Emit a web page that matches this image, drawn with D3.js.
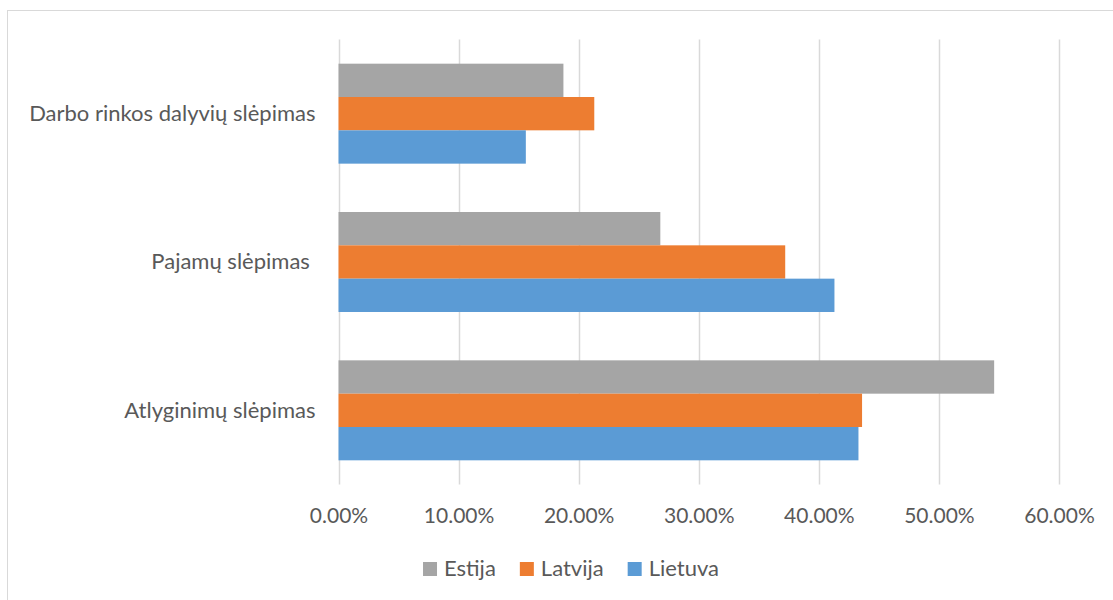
<!DOCTYPE html>
<html>
<head>
<meta charset="utf-8">
<script src="https://cdn.jsdelivr.net/npm/d3@7"></script>
<style>
	body { margin: 0; background: #fff; }
	svg { display: block; font-family: Lato, "Open Sans", sans-serif; }
	text { fill: #595959; white-space: pre; }
</style>
</head>
<body>
<svg id="chart" width="1113" height="600"></svg>
<script>
'use strict';

//Chart data (top to bottom as drawn)
var categories = ["Darbo rinkos dalyvių slėpimas", "Pajamų slėpimas ", "Atlyginimų slėpimas"];
var seriesNames = ["Estija", "Latvija", "Lietuva"];
var seriesColors = ["#A5A5A5", "#ED7D31", "#5B9BD5"];

var estija = [0.1873, 0.268, 0.546];
var latvija = [0.213, 0.372, 0.436];
var lietuva = [0.156, 0.413, 0.433];
var seriesValues = [estija, latvija, lietuva];

var xTicks = [0, 0.1, 0.2, 0.3, 0.4, 0.5, 0.6];

var svg = d3.select("#chart");

//Outer chart border
svg.append("rect")
	.attr("x", 7.5)
	.attr("y", 10.5)
	.attr("width", 1200)
	.attr("height", 700)
	.attr("fill", "none")
	.attr("stroke", "#D9D9D9")
	.attr("stroke-width", 1);

var plot = { left: 338.5, right: 1059, top: 39.5, bottom: 484.5 };

var x = d3.scaleLinear()
	.domain([0, 0.6])
	.range([plot.left, plot.right]);

var y = d3.scaleBand()
	.domain(categories)
	.range([plot.top, plot.bottom])
	.paddingInner(0.326)
	.paddingOuter(0.163);

var ySeries = d3.scaleBand()
	.domain(seriesNames)
	.range([0, y.bandwidth()]);

//Gridlines
svg.append("g")
	.selectAll("line")
	.data(xTicks)
	.join("line")
	.attr("x1", function(d) { return Math.round(x(d)) + 0.5; })
	.attr("x2", function(d) { return Math.round(x(d)) + 0.5; })
	.attr("y1", plot.top)
	.attr("y2", plot.bottom)
	.attr("stroke", "#D9D9D9")
	.attr("stroke-width", 1.5);

//X axis tick labels
var xAxis = d3.axisBottom(x)
	.tickValues(xTicks)
	.tickSize(0)
	.tickPadding(0)
	.tickFormat(d3.format(".2%"));

var xAxisG = svg.append("g")
	.attr("transform", "translate(0," + plot.bottom + ")")
	.call(xAxis);
xAxisG.select(".domain").remove();
xAxisG.selectAll("text")
	.attr("y", 38.5)
	.attr("dy", null)
	.style("font-family", "Lato, sans-serif")
	.style("font-size", "21px")
	.attr("fill", "#595959");

//Category labels
var yAxis = d3.axisLeft(y)
	.tickSize(0)
	.tickPadding(23);

var yAxisG = svg.append("g")
	.attr("transform", "translate(" + plot.left + ",0)")
	.call(yAxis);
yAxisG.select(".domain").remove();
yAxisG.selectAll("text")
	.attr("dy", "0.34em")
	.style("font-family", "Lato, sans-serif")
	.style("font-size", "22px")
	.attr("fill", "#595959");

//Bars
var groups = svg.append("g")
	.selectAll("g")
	.data(categories)
	.join("g")
	.attr("transform", function(d) { return "translate(0," + y(d) + ")"; });

groups.selectAll("rect")
	.data(function(cat, ci) {
		return seriesNames.map(function(name, si) {
			return { name: name, value: seriesValues[si][ci], color: seriesColors[si] };
		});
	})
	.join("rect")
	.attr("x", x(0))
	.attr("y", function(d) { return ySeries(d.name); })
	.attr("width", function(d) { return x(d.value) - x(0); })
	.attr("height", ySeries.bandwidth())
	.attr("fill", function(d) { return d.color; });

//Legend
var legend = svg.append("g")
	.attr("transform", "translate(0,0)");

var legendItems = legend.selectAll("g")
	.data(seriesNames)
	.join("g");

legendItems.append("rect")
	.attr("width", 14)
	.attr("height", 14)
	.attr("y", 562)
	.attr("fill", function(d, i) { return seriesColors[i]; });

legendItems.append("text")
	.attr("x", 21)
	.attr("y", 576)
	.style("font-size", "22px")
	.text(function(d) { return d; });

//Lay out legend items in a row, centered
var legendX = 0;
var itemGap = 24;
legendItems.each(function() {
	var w = d3.select(this).select("text").node().getComputedTextLength();
	d3.select(this).attr("transform", "translate(" + legendX + ",0)");
	legendX += 21 + w + itemGap;
});
var legendWidth = legendX - itemGap;
legend.attr("transform", "translate(" + (571 - legendWidth / 2) + ",0)");
</script>
</body>
</html>
